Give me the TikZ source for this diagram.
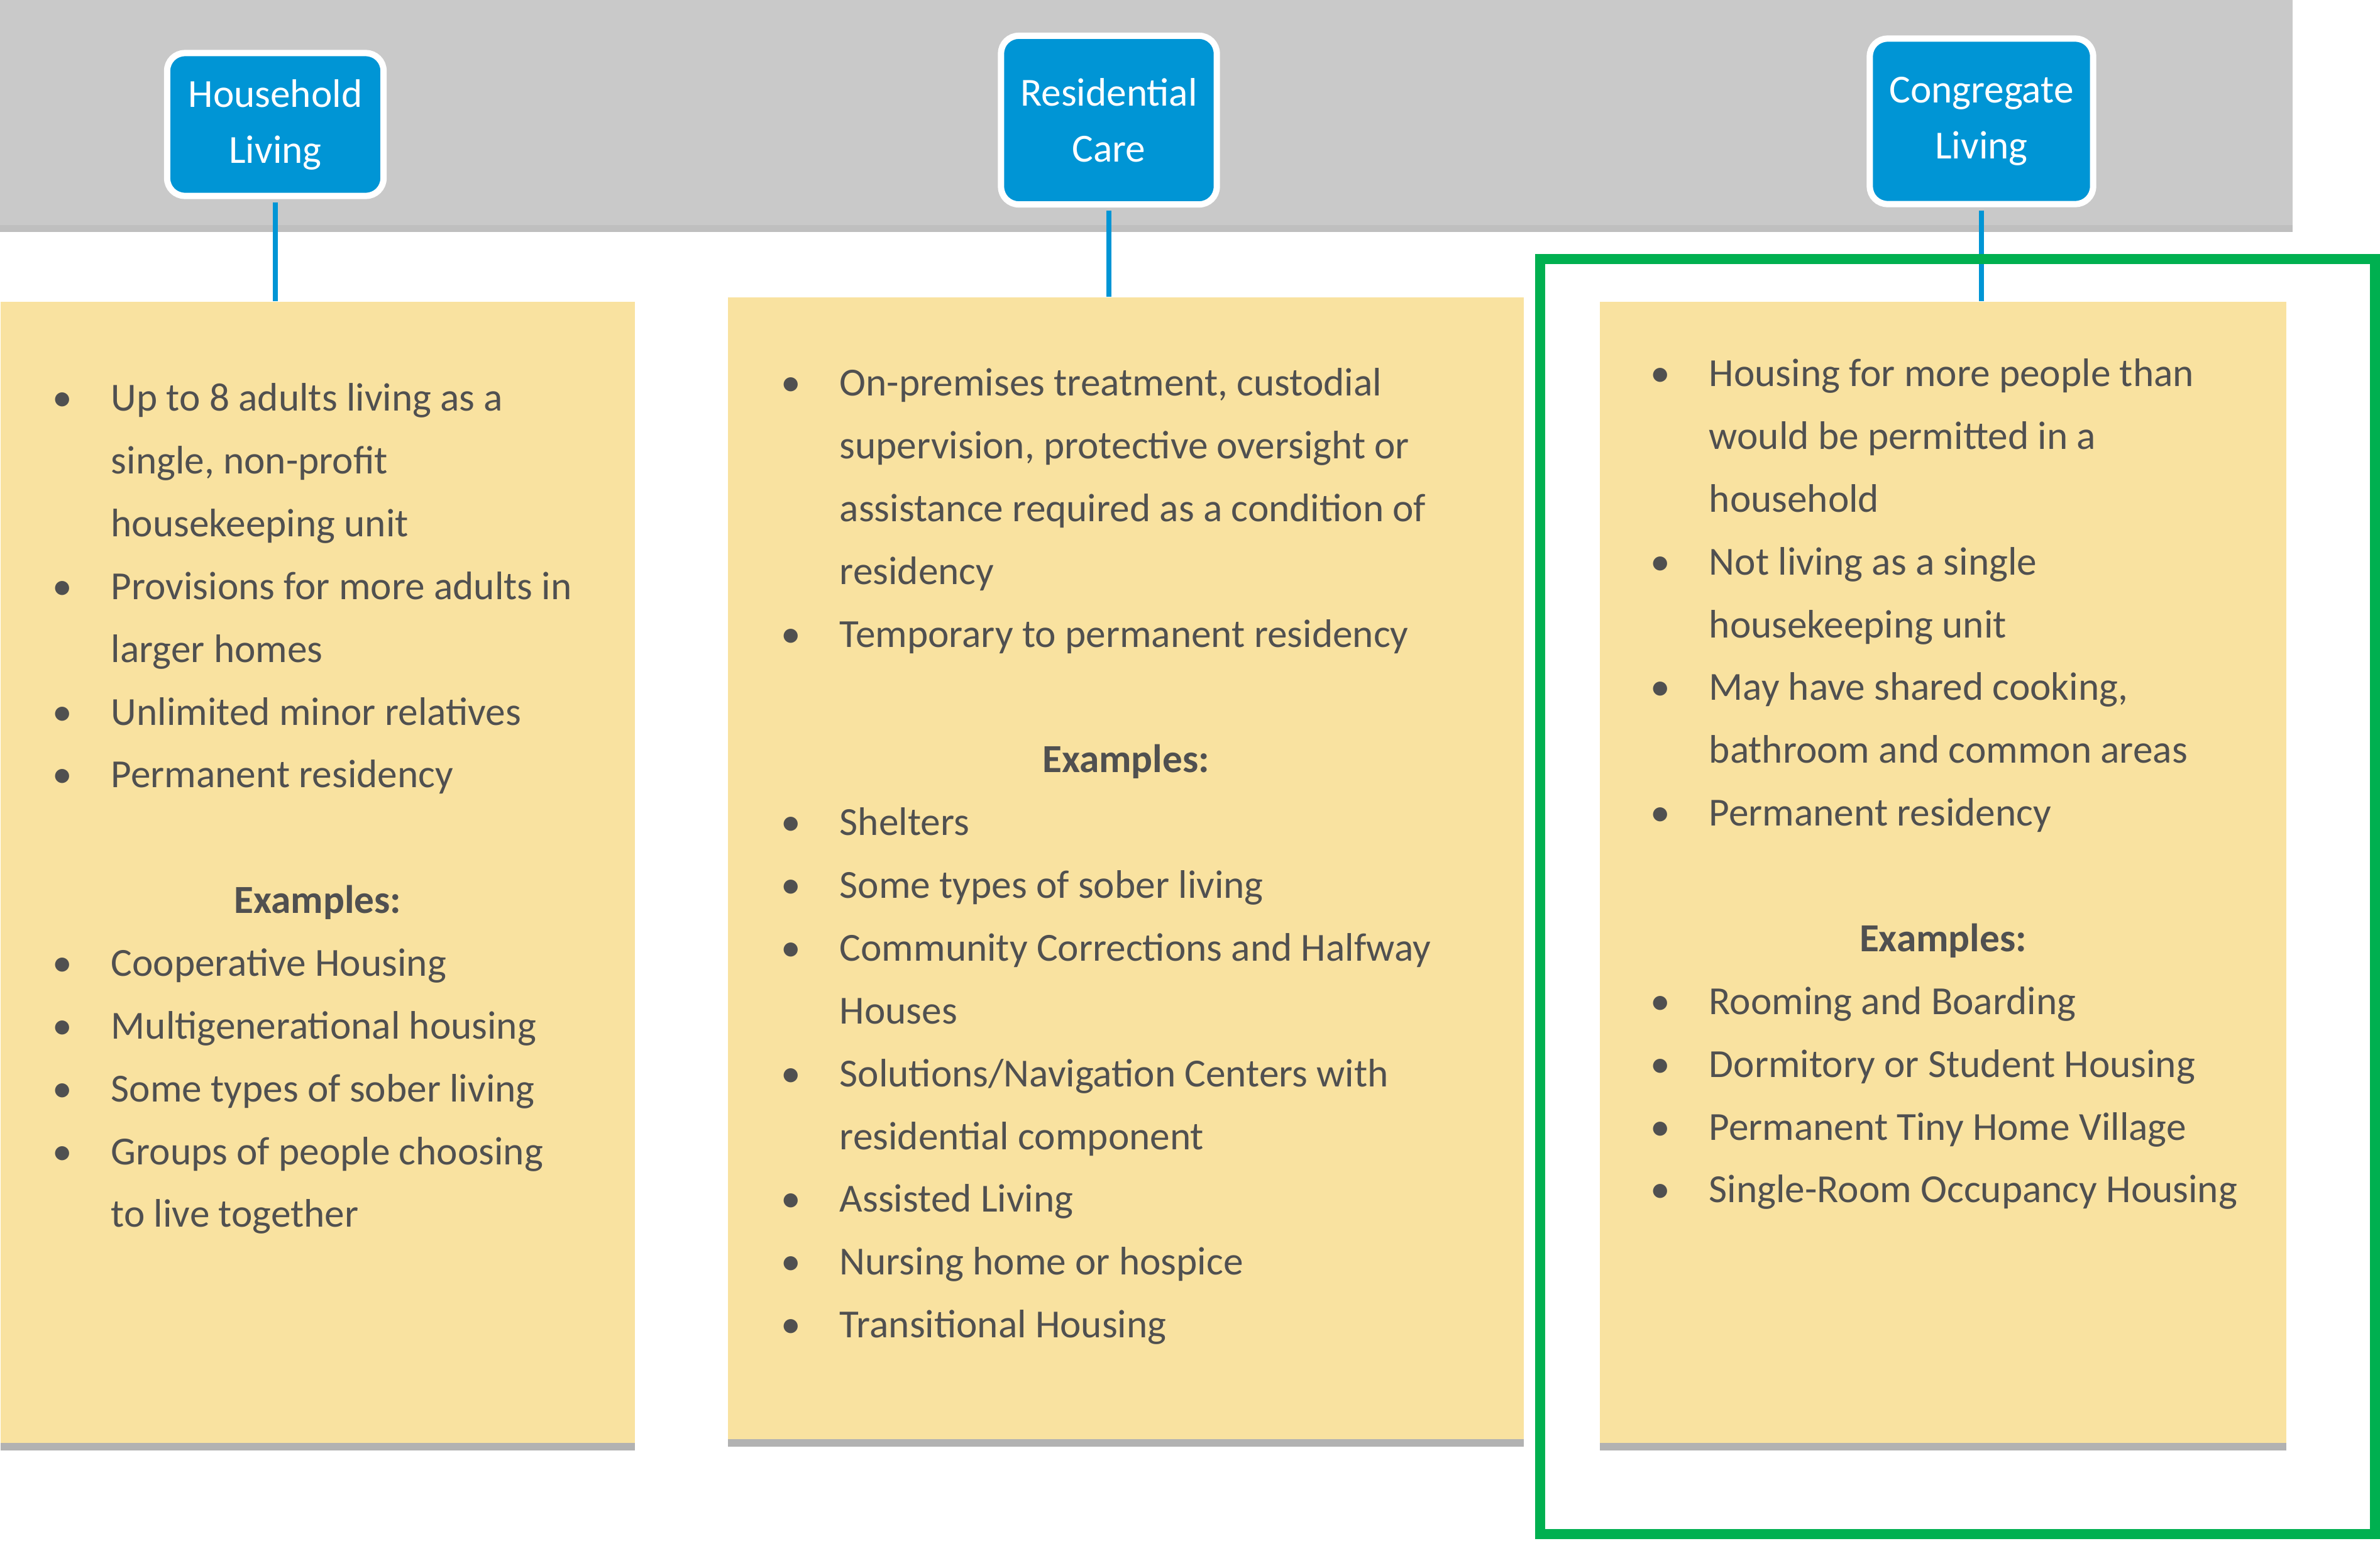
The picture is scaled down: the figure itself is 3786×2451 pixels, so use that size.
\documentclass[tikz,border=0pt]{standalone}
\usepackage{fontspec}
\setmainfont{Carlito}
\usepackage{tikz}
\usetikzlibrary{shadows}
\definecolor{band}{HTML}{C9C9C9}
\definecolor{headblue}{HTML}{0095D5}
\definecolor{cardbg}{HTML}{F9E2A0}
\definecolor{ink}{HTML}{505050}
\definecolor{pickgreen}{HTML}{00B050}
\tikzset{
  hdr/.style={draw=white, line width=0.1cm, fill=headblue, rounded corners=0.28cm,
    text=white, align=center, inner sep=0pt, font=\fontsize{18}{25.3}\selectfont},
  card/.style={fill=cardbg, anchor=north west, inner sep=0pt,
    drop shadow={shadow xshift=0pt, shadow yshift=-3.5pt, fill=black, opacity=0.3}},
  link/.style={draw=headblue, line width=0.08cm, shorten <=0.05cm},
  lst/.style={anchor=north west, inner sep=0pt, align=left, text=ink,
    font=\fontsize{18}{28.4}\selectfont},
  pick/.style={draw=pickgreen, line width=0.16cm}
}
% bullet, continuation indent, centred heading
\newcommand{\itm}{\makebox[0.93cm][l]{\textbullet}}
\newcommand{\cnt}{\hspace*{0.93cm}}
\newcommand{\exhead}[1]{\makebox[#1][c]{\textbf{Examples:}}}

\begin{document}
\begin{tikzpicture}[x=0.01cm, y=-0.01cm]
  \useasboundingbox (0,0) rectangle (3786,2451);
  % grey band
  \path[fill=band, drop shadow={shadow xshift=0pt, shadow yshift=-3pt, fill=black, opacity=0.25}]
    (0,0) rectangle (3647,358);

  % cards
  \node[card, minimum width=10.09cm, minimum height=18.14cm] (hlbox) at (0,479) {};
  \node[card, minimum width=12.66cm, minimum height=18.15cm] (rcbox) at (1157,472) {};
  \node[card, minimum width=10.92cm, minimum height=18.14cm] (clbox) at (2544,479) {};

  % headers
  \node[hdr, minimum width=3.44cm, minimum height=2.27cm] (hl) at (438,198) {Household\\Living};
  \node[hdr, minimum width=3.43cm, minimum height=2.68cm] (rc) at (1764,191) {Residential\\Care};
  \node[hdr, minimum width=3.55cm, minimum height=2.63cm] (cl) at (3152,193) {Congregate\\Living};
  \draw[link] (hl.south) -- (hl.south |- hlbox.north);
  \draw[link] (rc.south) -- (rc.south |- rcbox.north);
  \draw[link] (cl.south) -- (cl.south |- clbox.north);

  % lists
  \node[lst] (hltxt) at (83,583) {\strut\itm Up to 8 adults living as a\\
    \cnt single, non-profit\\
    \cnt housekeeping unit\\
    \itm Provisions for more adults in\\
    \cnt larger homes\\
    \itm Unlimited minor relatives\\
    \itm Permanent residency\\[28.4pt]
    \exhead{8.43cm}\\
    \itm Cooperative Housing\\
    \itm Multigenerational housing\\
    \itm Some types of sober living\\
    \itm Groups of people choosing\\
    \cnt to live together};

  \node[lst] (rctxt) at (1242,559) {\strut\itm On-premises treatment, custodial\\
    \cnt supervision, protective oversight or\\
    \cnt assistance required as a condition of\\
    \cnt residency\\
    \itm Temporary to permanent residency\\[28.4pt]
    \exhead{10.96cm}\\
    \itm Shelters\\
    \itm Some types of sober living\\
    \itm Community Corrections and Halfway\\
    \cnt Houses\\
    \itm Solutions/Navigation Centers with\\
    \cnt residential component\\
    \itm Assisted Living\\
    \itm Nursing home or hospice\\
    \itm Transitional Housing};

  \node[lst] (cltxt) at (2625,544) {\strut\itm Housing for more people than\\
    \cnt would be permitted in a\\
    \cnt household\\
    \itm Not living as a single\\
    \cnt housekeeping unit\\
    \itm May have shared cooking,\\
    \cnt bathroom and common areas\\
    \itm Permanent residency\\[28.4pt]
    \exhead{9.30cm}\\
    \itm Rooming and Boarding\\
    \itm Dormitory or Student Housing\\
    \itm Permanent Tiny Home Village\\
    \itm Single-Room Occupancy Housing};

  % highlight round the third column
  \draw[pick] (2450,412) rectangle (3778,2440);
\end{tikzpicture}
\end{document}
